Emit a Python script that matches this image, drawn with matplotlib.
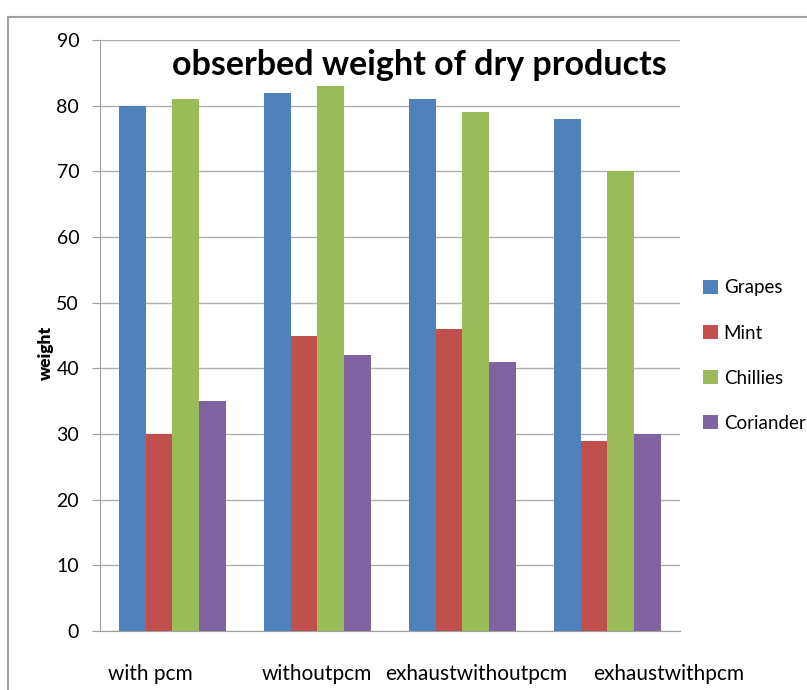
import numpy as np
import matplotlib
matplotlib.use("Agg")
from matplotlib import pyplot as plt
from matplotlib.patches import Rectangle
import matplotlib.transforms as mtransforms

categories = ["with pcm", "withoutpcm", "exhaustwithoutpcm", "exhaustwithpcm"]
grapes = [80, 82, 81, 78]
mint = [30, 45, 46, 29]
chillies = [81, 83, 79, 70]
coriander = [35, 42, 41, 30]
series = {"Grapes": grapes, "Mint": mint, "Chillies": chillies, "Coriander": coriander}
colors = ["#4F81BD", "#C0504D", "#9BBB59", "#8064A2"]

plt.rcParams['font.family'] = ['Lato', 'DejaVu Sans']

fig = plt.figure(figsize=(8.07, 6.90), dpi=100)
ax = fig.add_axes([0.1239, 0.0855, 0.7187, 0.8565])

# outer frame of the screenshot
fig.patches.append(Rectangle((0.0099, -0.1), 1.2, 1.0754, transform=fig.transFigure,
                             fill=False, edgecolor="#a0a0a0", lw=1.5))
# caption of the page, mostly cut off above the picture
fig.text(0.5, 1.008, "Figure: observed weight of dry products", family="Liberation Serif",
         fontsize=20, ha="center", va="baseline", color="black")

x = np.arange(len(categories))
w = 0.183
for i, (name, vals) in enumerate(series.items()):
    ax.bar(x + (i - 1.5) * w, vals, w, color=colors[i], label=name, zorder=3)

ax.set_xlim(-0.5, 3.5)
ax.set_ylim(0, 90)
ax.set_yticks(range(0, 91, 10))
ax.yaxis.grid(True, color="#b0b0b0", lw=1, zorder=0)
for s in ["top", "right"]:
    ax.spines[s].set_visible(False)
ax.spines["left"].set_color("#a0a0a0")
ax.spines["bottom"].set_color("#a0a0a0")
ax.tick_params(axis="y", length=6, color="#a0a0a0", labelsize=14, pad=9)
ax.tick_params(axis="x", length=0, labelsize=15, pad=24)
ax.set_xticks(x)
ax.set_xticklabels(categories)
shifts = [-22, -1, 14, 61]
for lab, dx in zip(ax.get_xticklabels(), shifts):
    lab.set_transform(lab.get_transform() + mtransforms.ScaledTranslation(dx / 100, 0, fig.dpi_scale_trans))

ax.set_ylabel("weight", fontsize=12.5, fontweight="heavy")
ax.yaxis.set_label_coords(-0.08, 0.47)

ax.text(0.55, 0.958, "obserbed weight of dry products", transform=ax.transAxes,
        fontsize=24.5, fontweight="bold", ha="center", va="center")

fig.legend(loc="upper left", bbox_to_anchor=(0.855, 0.614), frameon=False,
           fontsize=13.5, handlelength=0.8, handleheight=0.8, handletextpad=0.3,
           labelspacing=1.5, borderpad=0.2)

fig.savefig("out.png", dpi=100)
